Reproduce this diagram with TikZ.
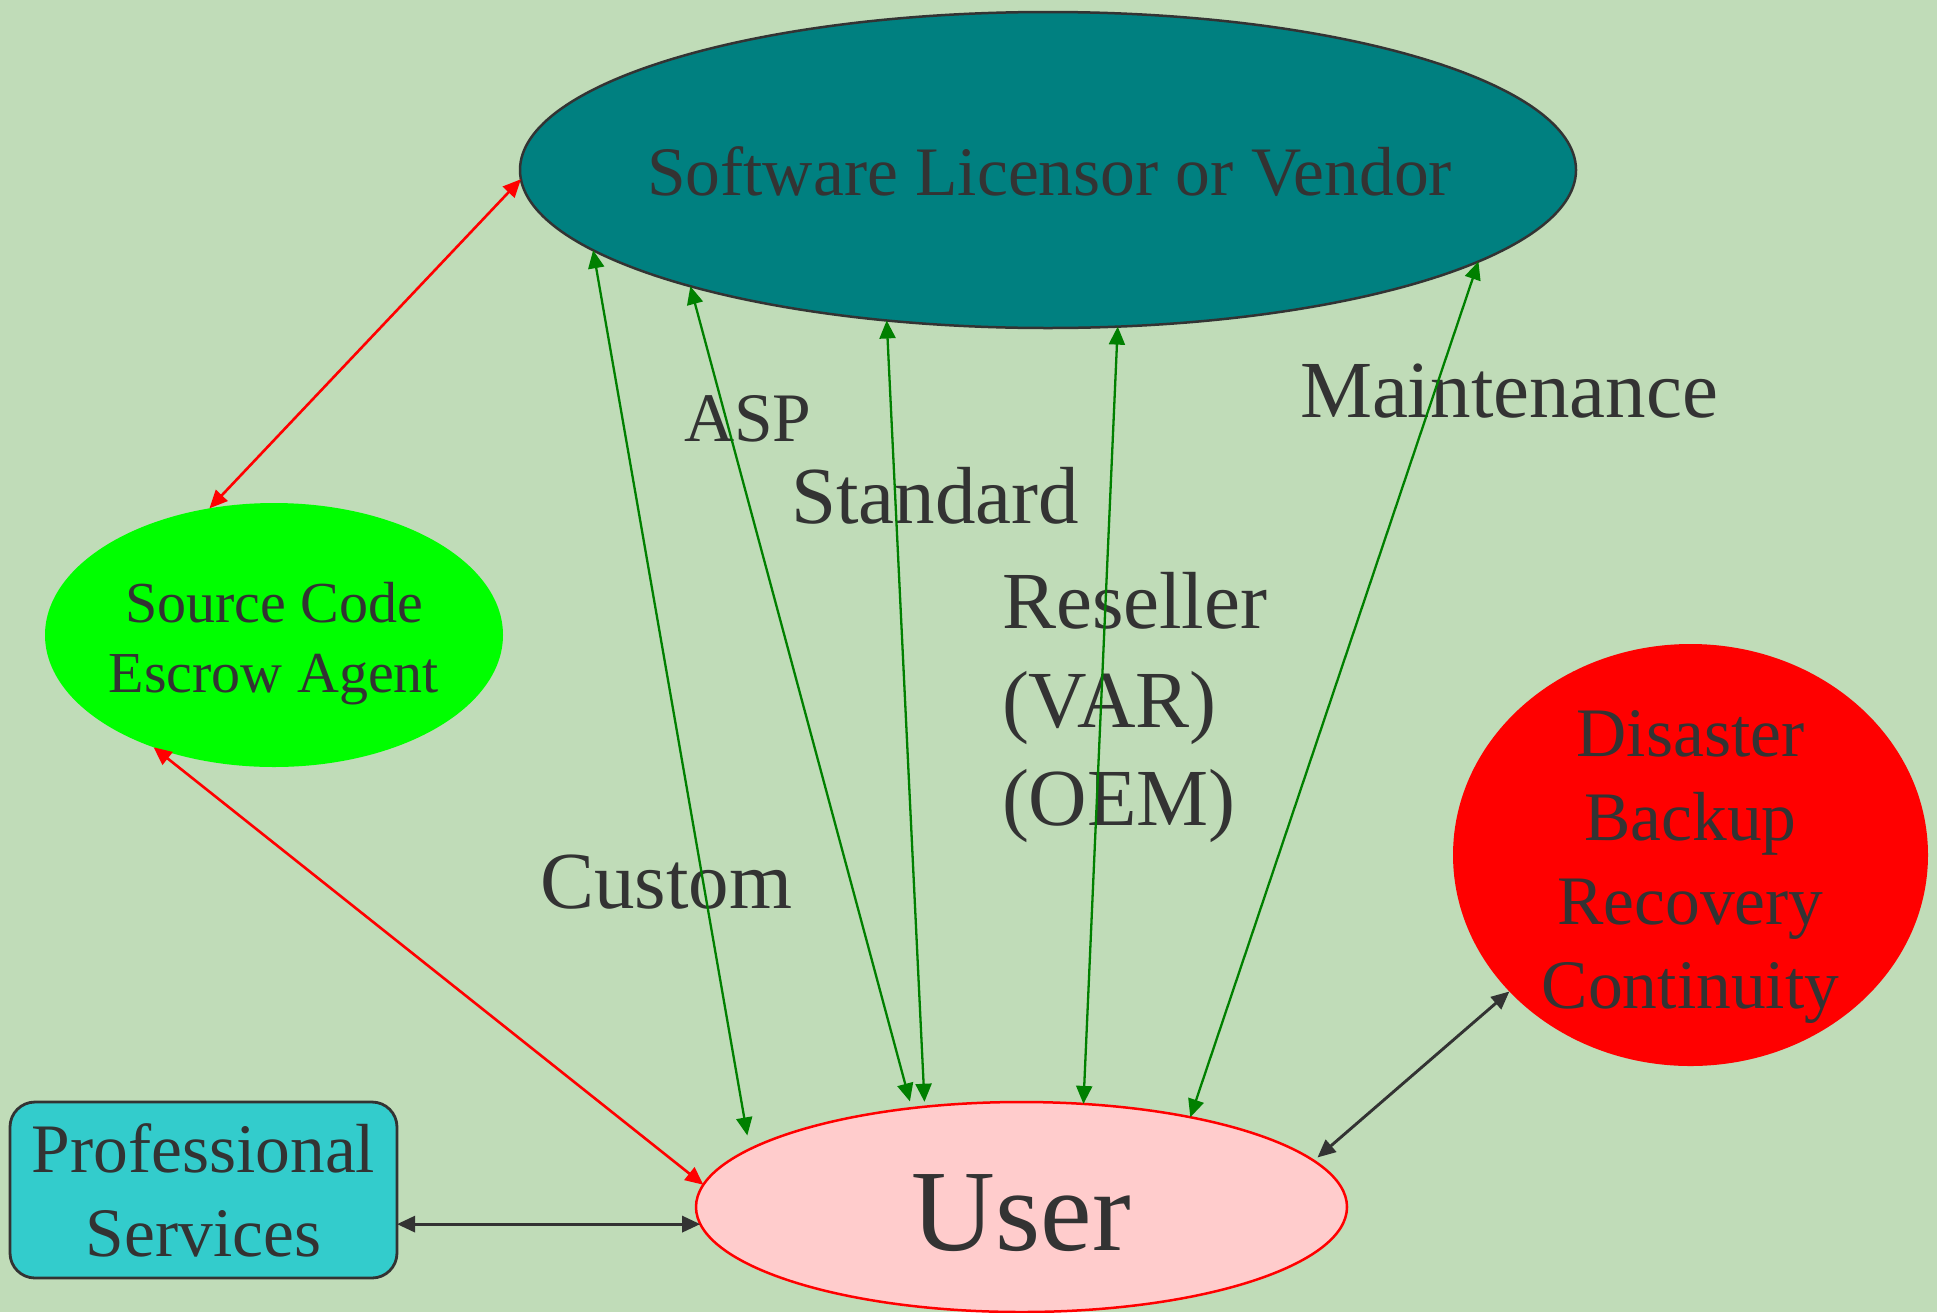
\documentclass[tikz,border=0pt]{standalone}
\usepackage{fontspec}
\setmainfont{Liberation Serif}
\usetikzlibrary{shapes.geometric,arrows.meta}
\definecolor{bg}{RGB}{192,220,184}
\definecolor{txt}{HTML}{333333}
\definecolor{tealfill}{HTML}{008080}
\definecolor{pinkfill}{HTML}{FFCCCC}
\definecolor{cyanbox}{HTML}{33CCCC}
\definecolor{gline}{HTML}{008000}
\definecolor{escrowgreen}{HTML}{00FF00}
\begin{document}
\begin{tikzpicture}[x=1pt,y=-1pt,
  >={Triangle[length=18pt,width=16pt]},
  every node/.style={text=txt, inner sep=0pt, outer sep=0pt},
  oval/.style={ellipse, inner sep=0pt, outer sep=0pt},
  garrow/.style={<->, draw=gline, line width=2.3pt},
  rarrow/.style={<->, draw=red, line width=2.6pt},
  karrow/.style={<->, draw=txt, line width=2.9pt},
  lbl/.style={font=\fontsize{81}{98.5}\selectfont, anchor=base west, text=txt},
]
\useasboundingbox (0,0) rectangle (1937,1312);
\fill[bg] (0,0) rectangle (1937,1312);

% nodes
\node[oval, fill=tealfill, draw=txt, line width=2.5pt,
      minimum width=1056pt, minimum height=316pt,
      label={[name=softtext, font=\fontsize{69.5}{80}\selectfont, text=txt, xshift=1.5pt, yshift=-1.3pt]center:Software Licensor or Vendor}]
      (soft) at (1048,170) {};

\node[oval, fill=escrowgreen, minimum width=458pt, minimum height=264pt,
      label={[name=escrowtext, font=\fontsize{58}{70}\selectfont, text=txt, align=center, yshift=-8.5pt]center:Source Code\\Escrow Agent}]
      (escrow) at (274,635) {};

\node[oval, fill=red, minimum width=475pt, minimum height=422pt,
      label={[name=distext, font=\fontsize{69.5}{84}\selectfont, text=txt, align=center, yshift=-12pt]center:Disaster\\Backup\\Recovery\\Continuity}]
      (dis) at (1690.5,855) {};

\node[oval, fill=pinkfill, draw=red, line width=2.5pt,
      minimum width=651pt, minimum height=210pt,
      label={[name=usertext, font=\fontsize{116}{120}\selectfont, text=txt, yshift=-5.6pt]center:User}]
      (user) at (1021.5,1207) {};

\node[rectangle, rounded corners=25pt, fill=cyanbox, draw=txt, line width=2.8pt,
      minimum width=387pt, minimum height=176pt, align=center,
      font=\fontsize{69.5}{84}\selectfont]
      (prof) at (203.5,1190) {Professional\\Services};

% free labels
\node[lbl, font=\fontsize{69.5}{80}\selectfont] (asp) at (684,441) {ASP};
\node[lbl] (standard) at (791,523) {Standard};
\node[lbl, anchor=north west, align=left] (reseller) at (1002,572.7) {Reseller\\(VAR)\\(OEM)};
\node[lbl] (maint) at (1300,417) {Maintenance};
\node[lbl] (custom) at (540,908) {Custom};

% connectors
\draw[garrow, shorten >=14pt] (soft.190.0) -- (user.168.1);
\draw[garrow, shorten >=7pt]  (soft.198.7) -- (user.138.7);
\draw[garrow, shorten >=5pt]  (soft.223.9) -- (user.134.0);
\draw[garrow] (soft.294.4) -- (user.59.2);
\draw[garrow] (soft.348.7) -- (user.28.05);

\draw[rarrow] (soft.181.85) -- (escrow.117.9);
\draw[rarrow] (escrow.223.3) -- (user.176.6);

\draw[karrow, shorten >=5pt] (dis.217.4) -- (user.9.64);
\draw[karrow] (prof.-10.25) -- (prof.-10.25 -| user.183);
\end{tikzpicture}
\end{document}
